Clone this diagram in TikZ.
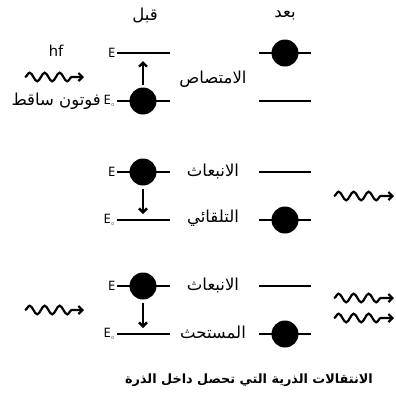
\documentclass[tikz,border=0pt]{standalone}
\usepackage{fontspec}
\setmainfont{Noto Sans}
\newfontfamily\arabicfont[Script=Arabic]{DejaVu Sans}
\TeXXeTstate=1
\usetikzlibrary{decorations.pathmorphing,arrows.meta}
\tikzset{
  level/.style={line width=2.6pt},
  ball/.style={circle,fill=black,inner sep=0pt,minimum size=27pt},
  trans/.style={line width=2.8pt,-{Straight Barb[length=4pt,width=8pt,line width=2.4pt]}},
  photon/.style={line width=2.2pt,decorate,decoration={snake,amplitude=4.3pt,segment length=15pt,post length=11pt},-{Straight Barb[length=4pt,width=8pt]}},
  ar/.style={font=\arabicfont\fontsize{16.5}{19}\selectfont},
  lat/.style={font=\fontsize{13}{15}\selectfont,inner sep=1.5pt},
}
\newcommand{\AR}[1]{\beginR #1\endR}
\begin{document}
\begin{tikzpicture}[x=1pt,y=-1pt]
\useasboundingbox (0,0) rectangle (396,397);
% headings
\node[ar] (before) at (145,15) {\AR{قبل}};
\node[ar] (after) at (285,15) {\AR{بعد}};
% ---------- row 1: absorption
\coordinate (b1uL) at (117,53); \coordinate (b1uR) at (170,53);
\coordinate (b1lL) at (117,101); \coordinate (b1lR) at (170,101);
\draw[level] (b1uL) -- (b1uR);
\draw[level] (b1lL) -- (b1lR);
\node[ball] (b1) at (143,101) {};
\coordinate (b1t) at (143,61);
\draw[trans] (b1.north) ++(0,-2) -- (b1t);
\node[lat,anchor=east] (e1u) at (b1uL) {E};
\node[lat,anchor=east] (e1l) at (b1lL) {E$_{\scriptscriptstyle\circ}$};
\coordinate (a1uL) at (259,53); \coordinate (a1uR) at (311,53);
\coordinate (a1lL) at (259,101); \coordinate (a1lR) at (311,101);
\draw[level] (a1uL) -- (a1uR);
\draw[level] (a1lL) -- (a1lR);
\node[ball] (a1) at (285,53) {};
\node[ar] (abs) at (213,79) {\AR{الامتصاص}};
\node[font=\fontsize{15}{17}\selectfont] (hf) at (56,51) {hf};
\coordinate (p1s) at (25,77); \coordinate (p1e) at (84,77);
\draw[photon] (p1s) -- (p1e);
\node[ar,anchor=east,inner sep=1pt] (inc) at (e1l.west) {\AR{فوتون ساقط}};
% ---------- row 2: spontaneous emission
\coordinate (b2uL) at (117,172); \coordinate (b2uR) at (170,172);
\coordinate (b2lL) at (117,220); \coordinate (b2lR) at (170,220);
\draw[level] (b2uL) -- (b2uR);
\draw[level] (b2lL) -- (b2lR);
\node[ball] (b2) at (143,172) {};
\coordinate (b2t) at (143,214);
\draw[trans] (b2.south) ++(0,3) -- (b2t);
\node[lat,anchor=east] (e2u) at (b2uL) {E};
\node[lat,anchor=east] (e2l) at (b2lL) {E$_{\scriptscriptstyle\circ}$};
\coordinate (a2uL) at (259,172); \coordinate (a2uR) at (311,172);
\coordinate (a2lL) at (259,220); \coordinate (a2lR) at (311,220);
\draw[level] (a2uL) -- (a2uR);
\draw[level] (a2lL) -- (a2lR);
\node[ball] (a2) at (285,220) {};
\node[ar] (em2) at (213,171) {\AR{الانبعاث}};
\node[ar] (sp) at (213,218) {\AR{التلقائي}};
\coordinate (p2s) at (334,196); \coordinate (p2e) at (394,196);
\draw[photon] (p2s) -- (p2e);
% ---------- row 3: stimulated emission
\coordinate (b3uL) at (117,286); \coordinate (b3uR) at (170,286);
\coordinate (b3lL) at (117,334); \coordinate (b3lR) at (170,334);
\draw[level] (b3uL) -- (b3uR);
\draw[level] (b3lL) -- (b3lR);
\node[ball] (b3) at (143,286) {};
\coordinate (b3t) at (143,328);
\draw[trans] (b3.south) ++(0,3) -- (b3t);
\node[lat,anchor=east] (e3u) at (b3uL) {E};
\node[lat,anchor=east] (e3l) at (b3lL) {E$_{\scriptscriptstyle\circ}$};
\coordinate (a3uL) at (259,286); \coordinate (a3uR) at (311,286);
\coordinate (a3lL) at (259,334); \coordinate (a3lR) at (311,334);
\draw[level] (a3uL) -- (a3uR);
\draw[level] (a3lL) -- (a3lR);
\node[ball] (a3) at (285,334) {};
\node[ar] (em3) at (213,285) {\AR{الانبعاث}};
\node[ar] (st) at (213,332) {\AR{المستحث}};
\coordinate (p3s) at (25,310); \coordinate (p3e) at (84,310);
\draw[photon] (p3s) -- (p3e);
\coordinate (p4s) at (334,298); \coordinate (p4e) at (394,298);
\draw[photon] (p4s) -- (p4e);
\coordinate (p5s) at (334,318); \coordinate (p5e) at (394,318);
\draw[photon] (p5s) -- (p5e);
% caption
\node[font=\arabicfont\bfseries\fontsize{12.8}{15}\selectfont] (cap) at (249,380) {\AR{الانتقالات الذرية التي تحصل داخل الذرة}};
\end{tikzpicture}
\end{document}
